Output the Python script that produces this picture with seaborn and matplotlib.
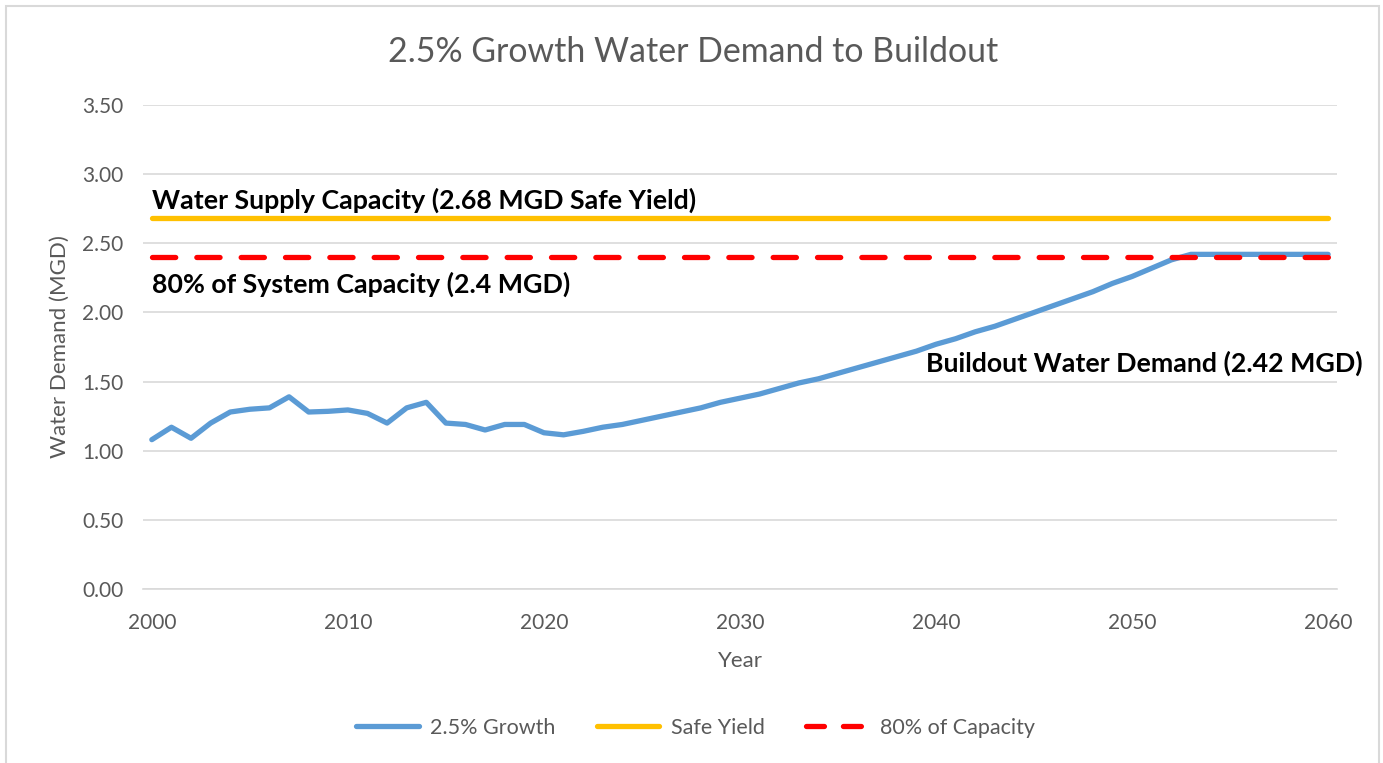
import numpy as np
import pandas as pd
import seaborn as sns
from matplotlib import pyplot as plt
from matplotlib.patches import Rectangle
from matplotlib.lines import Line2D

# data
years = list(range(2000, 2061))
growth = [1.08, 1.17, 1.09, 1.20, 1.28, 1.30, 1.31, 1.39, 1.28, 1.285,
          1.295, 1.27, 1.20, 1.31, 1.35, 1.20, 1.19, 1.15, 1.19, 1.19,
          1.13, 1.115, 1.14, 1.17, 1.19, 1.22, 1.25, 1.28, 1.31, 1.35,
          1.38, 1.41, 1.45, 1.49, 1.52, 1.56, 1.60, 1.64, 1.68, 1.72,
          1.77, 1.81, 1.86, 1.90, 1.95, 2.00, 2.05, 2.10, 2.15, 2.21,
          2.26, 2.32, 2.38, 2.42, 2.42, 2.42, 2.42, 2.42, 2.42, 2.42,
          2.42]
safe_yield = 2.68
capacity_80 = 2.40
series_names = ['2.5% Growth', 'Safe Yield', '80% of Capacity']

df = pd.DataFrame({'Year': years, 'Growth': growth,
                   'Safe': [safe_yield] * len(years),
                   'Cap80': [capacity_80] * len(years)})

sns.set_style('white')
plt.rcParams['font.family'] = ['Lato', 'DejaVu Sans']

fig = plt.figure(figsize=(13.83, 7.63), dpi=100)
ax = fig.add_axes([0.1034, 0.228, 0.8633, 0.6344])

blue, yellow, red = '#5B9BD5', '#FFC000', '#FF0000'
grey = '#595959'
lw = 3.8
sns.lineplot(data=df, x='Year', y='Growth', ax=ax, color=blue, lw=lw,
             solid_capstyle='round', solid_joinstyle='round', zorder=3)
sns.lineplot(data=df, x='Year', y='Safe', ax=ax, color=yellow, lw=lw,
             solid_capstyle='round', zorder=3)
sns.lineplot(data=df, x='Year', y='Cap80', ax=ax, color=red, lw=lw, zorder=4)
ax.lines[-1].set_dashes([4.4, 4.0])
ax.lines[-1].set_dash_capstyle('round')

ax.set_xlim(1999.55, 2060.45)
ax.set_ylim(0, 3.5)
ax.set_xticks(range(2000, 2061, 10))
ax.set_yticks(np.arange(0, 3.51, 0.5))
ax.set_yticklabels([f'{v:.2f}' for v in np.arange(0, 3.51, 0.5)])
ax.grid(axis='y', color='#D9D9D9', lw=1.2)
ax.set_axisbelow(True)
for s in ['top', 'right', 'left']:
    ax.spines[s].set_visible(False)
ax.spines['bottom'].set_color('#D9D9D9')
ax.spines['bottom'].set_linewidth(1.2)
ax.tick_params(axis='y', length=0, labelsize=15, labelcolor=grey, pad=14)
ax.tick_params(axis='x', length=0, labelsize=15, labelcolor=grey, pad=17)

ax.set_xlabel('Year', fontsize=16, color=grey, labelpad=13)
ax.set_ylabel('Water Demand (MGD)', fontsize=16, color=grey, labelpad=9)
fig.text(0.501, 0.932, '2.5% Growth Water Demand to Buildout', ha='center',
         va='center', fontsize=24.4, color=grey)

ax.text(2000.0, 2.81, 'Water Supply Capacity (2.68 MGD Safe Yield)',
        fontsize=19.3, fontweight='bold', va='center', ha='left', color='black')
ax.text(2000.0, 2.20, '80% of System Capacity (2.4 MGD)',
        fontsize=19.3, fontweight='bold', va='center', ha='left', color='black')
ax.text(2061.78, 1.63, 'Buildout Water Demand (2.42 MGD)',
        fontsize=19.3, fontweight='bold', va='center', ha='right',
        color='black', clip_on=False)

handles = [Line2D([], [], color=blue, lw=lw, solid_capstyle='round'),
           Line2D([], [], color=yellow, lw=lw, solid_capstyle='round'),
           Line2D([], [], color=red, lw=lw, dashes=[3.4, 3.6],
                  dash_capstyle='round')]
fig.legend(handles, series_names, loc='center', bbox_to_anchor=(0.503, 0.046),
           ncol=3, frameon=False, fontsize=15.5, handlelength=2.9,
           handletextpad=0.55, columnspacing=1.9, labelcolor=grey)

fig.patches.append(Rectangle((0.004, -0.01), 0.993, 1.002, transform=fig.transFigure,
                             fill=False, edgecolor='#D9D9D9', lw=1.5))

fig.savefig('out.png', dpi=100)
